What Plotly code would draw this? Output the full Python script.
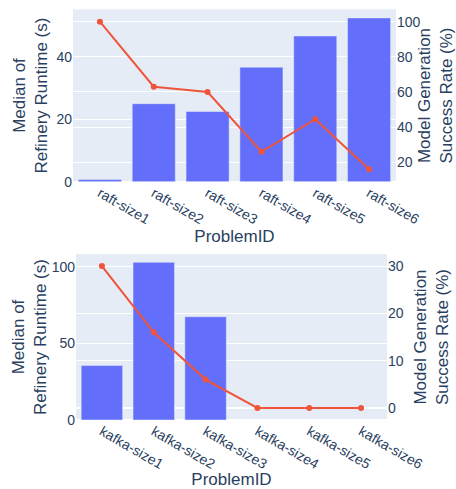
import plotly.graph_objects as go
from plotly.subplots import make_subplots

raft_ids = ["raft-size1", "raft-size2", "raft-size3", "raft-size4", "raft-size5", "raft-size6"]
raft_runtime = [0.7, 25.0, 22.5, 36.7, 46.7, 52.5]
raft_success = [100, 63, 60, 26, 44.5, 16]

kafka_ids = ["kafka-size1", "kafka-size2", "kafka-size3", "kafka-size4", "kafka-size5", "kafka-size6"]
kafka_runtime = [35.5, 102.8, 67.3, None, None, None]
kafka_success = [30, 16, 6, 0, 0, 0]

W, H = 456, 489
fig = make_subplots(rows=2, cols=1, specs=[[{"secondary_y": True}], [{"secondary_y": True}]])

fig.add_trace(go.Bar(x=raft_ids, y=raft_runtime, marker_color="#636EFA"), row=1, col=1, secondary_y=False)
fig.add_trace(go.Scatter(x=raft_ids, y=raft_success, mode="lines+markers", line=dict(color="#EF553B", width=2),
                         marker=dict(size=6)), row=1, col=1, secondary_y=True)
fig.add_trace(go.Bar(x=kafka_ids, y=kafka_runtime, marker_color="#636EFA"), row=2, col=1, secondary_y=False)
fig.add_trace(go.Scatter(x=kafka_ids, y=kafka_success, mode="lines+markers", line=dict(color="#EF553B", width=2),
                         marker=dict(size=6)), row=2, col=1, secondary_y=True)

def px_x(a, b):
    return [a / W, b / W]

def px_y(top, bottom):
    return [1 - bottom / H, 1 - top / H]

ytitle_l = "Median of<br>Refinery Runtime (s)"
ytitle_r = "Model Generation<br>Success Rate (%)"

fig.update_layout(
    width=W, height=H,
    margin=dict(l=0, r=0, t=0, b=0),
    showlegend=False,
    font=dict(family="Liberation Sans, Arial, sans-serif", size=14, color="#2a3f5f"),
    plot_bgcolor="#E5ECF6", paper_bgcolor="white",
    xaxis=dict(domain=px_x(73, 396), automargin=False, tickangle=30,
               title=dict(text="ProblemID", standoff=3)),
    xaxis2=dict(domain=px_x(76, 387), automargin=False, tickangle=30,
                title=dict(text="ProblemID", standoff=0)),
    yaxis=dict(domain=px_y(9.3, 181.7), automargin=False, title=dict(text=ytitle_l, standoff=4)),
    yaxis2=dict(domain=px_y(9.3, 181.7), automargin=False, title=dict(text=ytitle_r, standoff=20)),
    yaxis3=dict(domain=px_y(254, 420), automargin=False, title=dict(text=ytitle_l, standoff=0)),
    yaxis4=dict(domain=px_y(254, 420), automargin=False, title=dict(text=ytitle_r, standoff=11)),
)

fig.write_html("out.html", config={"displayModeBar": False},
               post_script="document.body.style.margin='0';document.body.style.overflow='hidden';")
